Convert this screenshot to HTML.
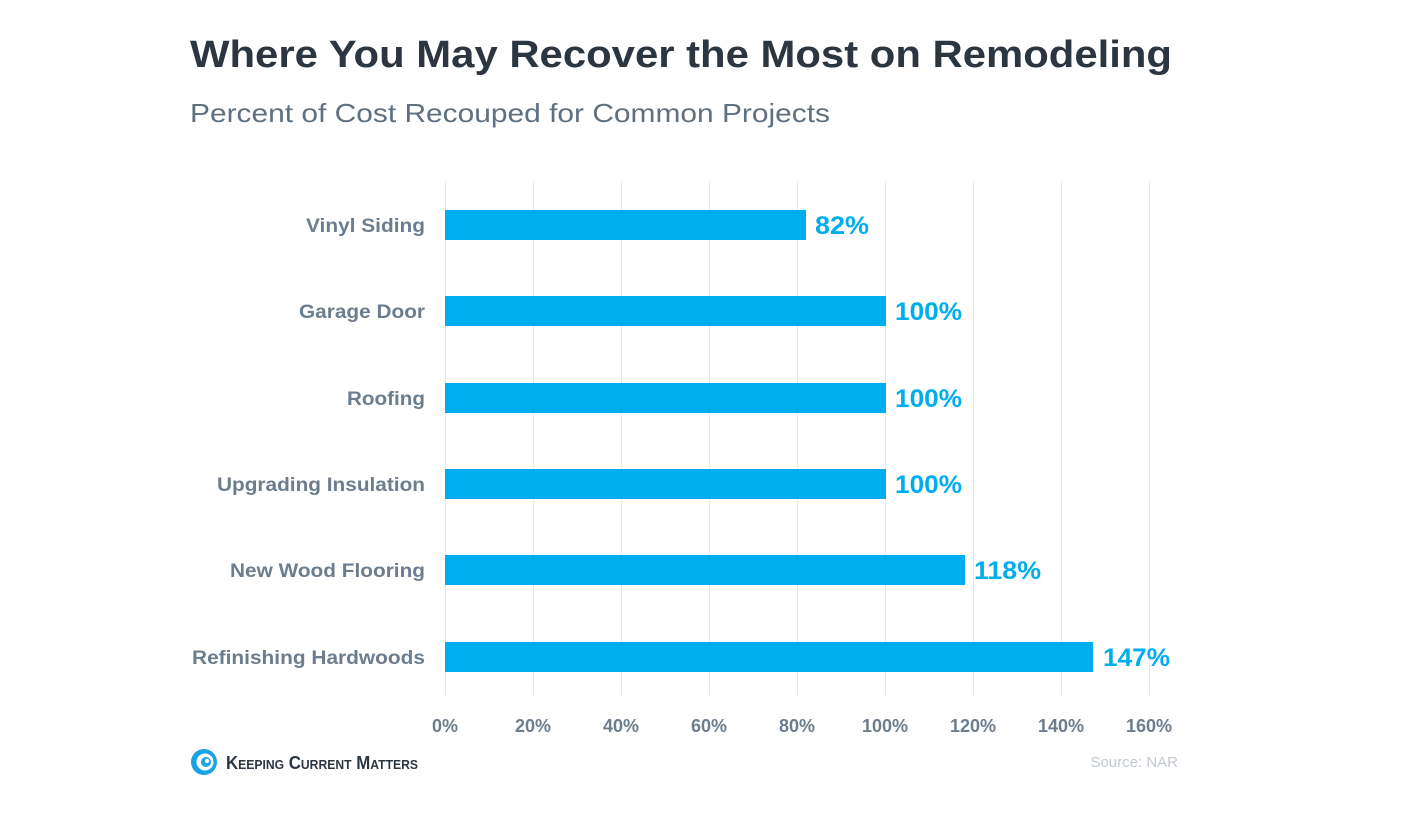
<!DOCTYPE html>
<html><head><style>
html,body{margin:0;padding:0;background:#fff;}
svg{display:block;font-family:"Liberation Sans",Arial,sans-serif;}
</style></head><body>
<svg width="1406" height="814" viewBox="0 0 1406 814" xmlns="http://www.w3.org/2000/svg">
<rect width="1406" height="814" fill="#fff"/>
<text x="190" y="67" font-size="38" font-weight="bold" fill="#2b3640" textLength="982" lengthAdjust="spacingAndGlyphs">Where You May Recover the Most on Remodeling</text>
<text x="190" y="122" font-size="26" fill="#5f7080" textLength="640" lengthAdjust="spacingAndGlyphs">Percent of Cost Recouped for Common Projects</text>
<g stroke="#e6e8ea" stroke-width="1">
<line x1="445.5" y1="182" x2="445.5" y2="695"/>
<line x1="533.5" y1="182" x2="533.5" y2="695"/>
<line x1="621.5" y1="182" x2="621.5" y2="695"/>
<line x1="709.5" y1="182" x2="709.5" y2="695"/>
<line x1="797.5" y1="182" x2="797.5" y2="695"/>
<line x1="885.5" y1="182" x2="885.5" y2="695"/>
<line x1="973.5" y1="182" x2="973.5" y2="695"/>
<line x1="1061.5" y1="182" x2="1061.5" y2="695"/>
<line x1="1149.5" y1="182" x2="1149.5" y2="695"/>
</g>
<g fill="#00aeef">
<rect x="445" y="210" width="361" height="30"/>
<rect x="445" y="296" width="441" height="30"/>
<rect x="445" y="383" width="441" height="30"/>
<rect x="445" y="469" width="441" height="30"/>
<rect x="445" y="555" width="520" height="30"/>
<rect x="445" y="642" width="648" height="30"/>
</g>
<g font-size="25" font-weight="bold" fill="#00aeef">
<text x="815" y="234" textLength="54" lengthAdjust="spacingAndGlyphs">82%</text>
<text x="895" y="320" textLength="67" lengthAdjust="spacingAndGlyphs">100%</text>
<text x="895" y="407" textLength="67" lengthAdjust="spacingAndGlyphs">100%</text>
<text x="895" y="493" textLength="67" lengthAdjust="spacingAndGlyphs">100%</text>
<text x="974" y="579" textLength="67" lengthAdjust="spacingAndGlyphs">118%</text>
<text x="1103" y="666" textLength="67" lengthAdjust="spacingAndGlyphs">147%</text>
</g>
<g font-size="19" font-weight="bold" fill="#6b7d8e">
<text x="306" y="232" textLength="119" lengthAdjust="spacingAndGlyphs">Vinyl Siding</text>
<text x="299" y="318" textLength="126" lengthAdjust="spacingAndGlyphs">Garage Door</text>
<text x="347" y="405" textLength="78" lengthAdjust="spacingAndGlyphs">Roofing</text>
<text x="217" y="491" textLength="208" lengthAdjust="spacingAndGlyphs">Upgrading Insulation</text>
<text x="230" y="577" textLength="195" lengthAdjust="spacingAndGlyphs">New Wood Flooring</text>
<text x="192" y="664" textLength="233" lengthAdjust="spacingAndGlyphs">Refinishing Hardwoods</text>
</g>
<g font-size="18" font-weight="bold" fill="#6b7d8e" text-anchor="middle">
<text x="445" y="732">0%</text>
<text x="533" y="732">20%</text>
<text x="621" y="732">40%</text>
<text x="709" y="732">60%</text>
<text x="797" y="732">80%</text>
<text x="885" y="732">100%</text>
<text x="973" y="732">120%</text>
<text x="1061" y="732">140%</text>
<text x="1149" y="732">160%</text>
</g>
<text x="1178" y="767" font-size="15" fill="#c3c9cf" text-anchor="end">Source: NAR</text>
<g>
<circle cx="204" cy="762" r="13" fill="#1aa3e0"/>
<circle cx="205" cy="762" r="8.5" fill="#fff"/>
<circle cx="206" cy="762" r="5" fill="#1aa3e0"/>
<circle cx="207" cy="761" r="2.2" fill="#fff"/>
</g>
<text x="226" y="769" font-size="18" font-weight="bold" fill="#2b3640" textLength="192" lengthAdjust="spacingAndGlyphs">K<tspan font-size="13">EEPING</tspan> C<tspan font-size="13">URRENT</tspan> M<tspan font-size="13">ATTERS</tspan></text>
</svg>
</body></html>
